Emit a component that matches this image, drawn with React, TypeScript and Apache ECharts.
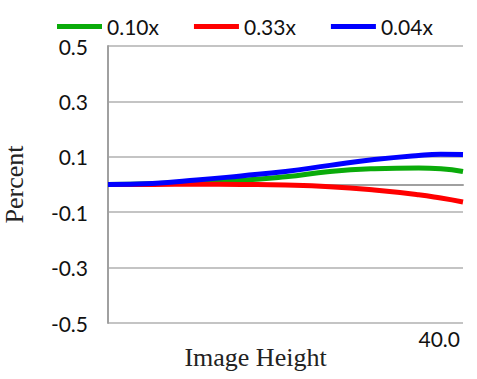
import React, { useEffect, useRef } from "react";
import * as echarts from "echarts";

const xValues = [0, 5, 10, 15, 20, 25, 30, 35, 37.5, 40];
const seriesNames = ["0.10x", "0.33x", "0.04x"];
const green010 = [0, 0.003, 0.01, 0.015, 0.028, 0.047, 0.057, 0.06, 0.057, 0.047];
const red033 = [0, 0, 0.001, 0, -0.002, -0.008, -0.02, -0.037, -0.049, -0.063];
const blue004 = [0, 0.004, 0.016, 0.031, 0.047, 0.069, 0.09, 0.105, 0.109, 0.108];
const colors = ["#0aab0a", "#ff0000", "#0000ff"];

export default function App() {
  const ref = useRef<HTMLDivElement>(null);
  useEffect(() => {
    if (!ref.current) return;
    const chart = echarts.init(ref.current, null, { renderer: "svg" });
    const all = [green010, red033, blue004];
    const sansFont = "Lato";
    chart.setOption({
      animation: false,
      legend: {
        top: 11,
        left: 52,
        icon: "rect",
        itemWidth: 45,
        itemHeight: 5,
        itemGap: 35,
        textStyle: { fontFamily: sansFont, fontSize: 21, color: "#111" },
        data: seriesNames,
      },
      grid: { left: 108, right: 14, top: 46, bottom: 56, outerBoundsMode: "none", containLabel: false },
      xAxis: {
        type: "value",
        min: 0,
        max: 40,
        interval: 40,
        name: "Image Height",
        nameLocation: "middle",
        nameGap: 21,
        nameMoveOverlap: false,
        nameTextStyle: {
          fontFamily: "Liberation Serif",
          fontSize: 26,
          color: "#222",
          padding: [0, 60, 0, 0],
        },
        axisLine: { lineStyle: { color: "#a0a0a0", width: 2 } },
        axisTick: { show: false },
        splitLine: { show: false },
        axisLabel: {
          fontFamily: sansFont,
          fontSize: 21,
          color: "#111",
          margin: 5,
          align: "right",
          padding: [0, 3, 0, 0],
          formatter: (v: number) => (v === 0 ? "" : v.toFixed(1)),
        },
      },
      yAxis: {
        type: "value",
        min: -0.5,
        max: 0.5,
        interval: 0.2,
        name: "Percent",
        nameLocation: "middle",
        nameGap: 81,
        nameMoveOverlap: false,
        nameTextStyle: { fontFamily: "Liberation Serif", fontSize: 26, color: "#222" },
        axisLine: { show: true, lineStyle: { color: "#a0a0a0", width: 2 } },
        axisTick: { show: false },
        splitLine: { lineStyle: { color: "#b0b0b0", width: 1.5 } },
        axisLabel: {
          fontFamily: sansFont,
          fontSize: 21,
          color: "#111",
          margin: 20,
          formatter: (v: number) => String(Math.round(v * 10) / 10),
        },
      },
      series: seriesNames.map((n, i) => ({
        name: n,
        type: "line",
        smooth: true,
        symbol: "none",
        lineStyle: { width: 5, color: colors[i] },
        itemStyle: { color: colors[i] },
        data: xValues.map((x, j) => [x, all[i][j]]),
      })),
    });
    return () => chart.dispose();
  }, []);
  return (
    <div
      ref={ref}
      style={{ position: "absolute", left: 0, top: 0, width: 477, height: 379 }}
    />
  );
}
